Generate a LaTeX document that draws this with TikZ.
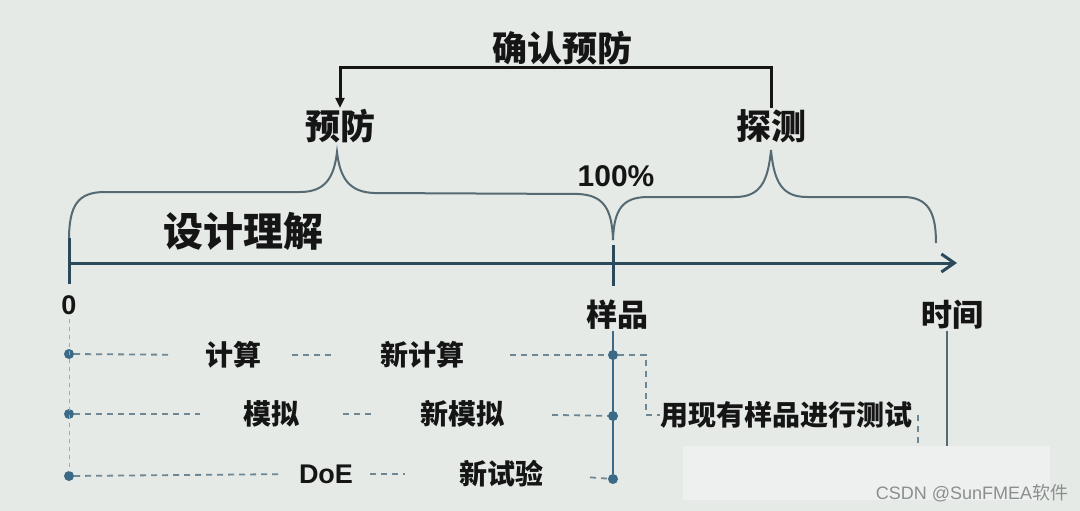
\documentclass[tikz,border=0pt]{standalone}
\usepackage{fontspec}
\setmainfont{Liberation Sans}
\newfontfamily\cjk{Noto Sans CJK SC}
\usetikzlibrary{arrows.meta,calc}
\definecolor{bg}{HTML}{E5EAE6}
\definecolor{bgl}{HTML}{EDF0EE}
\definecolor{axisc}{HTML}{2A4A5C}
\definecolor{bracec}{HTML}{566A74}
\definecolor{dotc}{HTML}{3C6A86}
\definecolor{dashc}{HTML}{6E8794}
\definecolor{ink}{HTML}{151515}
\definecolor{wmc}{HTML}{8A8E8C}
\begin{document}
\begin{tikzpicture}[x=1pt,y=-1pt,
  head/.style={inner sep=1pt,text=ink,font=\cjk\bfseries\fontsize{35}{35}\selectfont},
  big/.style={inner sep=1pt,text=ink,font=\cjk\bfseries\fontsize{35}{35}\selectfont},
  undl/.style={inner sep=1pt,text=ink,font=\cjk\bfseries\fontsize{40}{40}\selectfont},
  midl/.style={inner sep=1pt,text=ink,font=\cjk\bfseries\fontsize{31}{31}\selectfont},
  sml/.style={inner sep=0pt,text=ink,font=\cjk\bfseries\fontsize{28}{28}\selectfont},
  lat/.style={inner sep=1pt,text=ink,font=\bfseries\fontsize{30}{30}\selectfont},
  latsm/.style={inner sep=0pt,text=ink,font=\bfseries\fontsize{27}{27}\selectfont},
  wm/.style={inner sep=0pt,text=wmc,font=\fontsize{18}{18}\selectfont},
  dotn/.style={circle,fill=dotc,inner sep=0pt,minimum size=10pt},
  bracel/.style={draw=bracec,line width=2pt},
  axisl/.style={draw=axisc,line width=3pt},
  fbl/.style={draw=ink,line width=3pt},
  dsh/.style={draw=dashc,line width=1.8pt,dash pattern=on 6pt off 5pt},
  vdsh/.style={draw=dashc!70,line width=1pt,dash pattern=on 4pt off 4pt},
  vline/.style={draw=dotc,line width=2.2pt},
  tline/.style={draw=bracec,line width=2pt}]
\fill[bg] (0,0) rectangle (1080,511);
\useasboundingbox (0,0) rectangle (1080,511);

% top labels
\node[head] (confirm) at (562,48) {确认预防};
\node[big] (prev) at (340,126) {预防};
\node[big] (det) at (771,126) {探测};
\node[lat] (pct) at (616,176) {100\%};
\node[undl] (und) at (243,231) {设计理解};
\node[latsm] (zero) at (69,305) {0};
\node[midl] (samp) at (617,315) {样品};
\node[midl] (time) at (952,315) {时间};

% feedback
\coordinate (fbY) at (0,68);
\draw[fbl,-{Triangle[length=10pt,width=9pt]}] (det.north) -- (det.north |- fbY) -- (prev.north |- fbY) -- (prev.north);

% braces
\draw[bracel] (69,240) .. controls (69,205) and (78,192) .. (105,192) -- (300,192)
  .. controls (325,192) and (334,178) .. (337,152)
  .. controls (340,178) and (349,192) .. (374,193) -- (578,194)
  .. controls (603,195) and (612,208) .. (613,240);
\draw[bracel] (613,240) .. controls (614,210) and (622,197) .. (648,197) -- (735,197)
  .. controls (760,197) and (768,182) .. (771,150)
  .. controls (774,182) and (782,197) .. (807,197) -- (903,197)
  .. controls (928,197) and (936,212) .. (936,243);

% axis
\coordinate (ax0) at (69,263);
\coordinate (ax1) at (957,263);
\draw[axisl,-{Straight Barb[length=13pt,width=18pt]}] (ax0) -- (ax1);
\draw[axisl] (69,238) -- (69,284);
\draw[axisl] (613,245) -- (613,286);

% dots
\node[dotn] (d1) at (69,354) {};
\node[dotn] (d2) at (69,414) {};
\node[dotn] (d3) at (69,476) {};
\node[dotn] (e1) at (613,355) {};
\node[dotn] (e2) at (613,416) {};
\node[dotn] (e3) at (613,479) {};

% bottom labels
\node[sml] (calc) at (233,355) {计算};
\node[sml] (ncalc) at (422,355) {新计算};
\node[sml] (sim) at (271,414) {模拟};
\node[sml] (nsim) at (462,414) {新模拟};
\node[latsm] (doe) at (326,474) {DoE};
\node[sml] (ntest) at (501,474) {新试验};
\node[sml] (test) at (786,415) {用现有样品进行测试};

% verticals
\draw[vdsh,shorten <=4pt] (zero.south) -- (d3);
\draw[vline] (e1 |- samp.south) -- (e3);

% row dashes
\draw[dsh,shorten >=33pt] (d1) -- (calc.west);
\draw[dsh,shorten <=31pt,shorten >=47pt] (calc.east) -- (ncalc.west);
\draw[dsh,shorten <=46pt] (ncalc.east) -- (e1);
\draw[dsh] (e1) -| ($(test.west)+(-14,0)$) -- (test.west);

\draw[dsh,shorten >=43pt] (d2) -- (sim.west);
\draw[dsh,shorten <=44pt,shorten >=45pt] (sim.east) -- (nsim.west);
\draw[dsh,shorten <=48pt] (nsim.east) -- (e2);

\draw[dsh,shorten >=16pt] (d3) -- (doe.west);
\draw[dsh,shorten <=17pt,shorten >=54pt] (doe.east) -- (ntest.west);
\draw[dsh,shorten <=47pt] (ntest.east) -- (e3);

% right side lines
\coordinate (tb) at (918,447);
\draw[dsh] (tb |- test.east) -- (tb);
\coordinate (tl) at (947,447);
\draw[tline] (tl |- time.south) -- (tl);

% blurred patch and watermark
\fill[bgl] (683,446) rectangle (1050,500);
\node[wm] (wmark) at (972,493) {CSDN @SunFMEA{\cjk 软件}};
\end{tikzpicture}
\end{document}
